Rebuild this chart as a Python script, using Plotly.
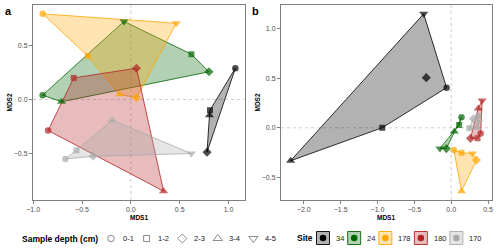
import plotly.graph_objects as go

# ---------------- data ----------------
depths = ["0-1", "1-2", "2-3", "3-4", "4-5"]
sites = ["34", "24", "178", "180", "170"]
site_colors = ["#000000", "#006400", "#FFA500", "#B22222", "#A9A9A9"]

# Panel a: MDS1 / MDS2 per site, values in depth order (0-1 ... 4-5); None = not shown
a34_x = [1.07, 0.81, 0.78, 0.805, None]
a34_y = [0.29, -0.10, -0.49, -0.146, None]
a24_x = [-0.903, 0.62, 0.80, -0.71, -0.07]
a24_y = [0.04, 0.42, 0.257, -0.022, 0.725]
a178_x = [-0.903, -0.44, 0.058, -0.116, 0.465]
a178_y = [0.795, 0.403, 0.015, 0.047, 0.708]
a180_x = [-0.847, -0.585, 0.058, 0.335, None]
a180_y = [-0.289, 0.20, 0.29, -0.852, None]
a170_x = [-0.67, -0.557, -0.386, -0.191, 0.619]
a170_y = [-0.553, -0.472, -0.528, -0.193, -0.503]

# Hull vertex order (depth indices) for panel a
a34_hull = [0, 1, 3, 2]
a24_hull = [0, 3, 2, 1, 4]
a178_hull = [0, 1, 3, 2, 4]
a180_hull = [1, 2, 3, 0]
a170_hull = [3, 4, 2, 0, 1]

# Panel b
b34_x = [-0.062, -0.936, -0.338, -2.18, -0.373]
b34_y = [0.404, 0.0, 0.505, -0.333, 1.148]
b24_x = [0.14, 0.108, -0.065, 0.043, -0.153]
b24_y = [0.105, 0.027, -0.21, -0.038, -0.208]
b178_x = [0.036, 0.14, 0.343, 0.14, 0.289]
b178_y = [-0.225, -0.252, -0.326, -0.639, -0.259]
b180_x = [0.40, 0.357, 0.262, 0.368, 0.42]
b180_y = [-0.057, -0.107, -0.107, 0.194, 0.275]
b170_x = [0.365, 0.246, 0.30, 0.35, 0.375]
b170_y = [0.115, -0.006, 0.09, 0.0, 0.06]

b34_hull = [4, 0, 1, 3]
b24_hull = [0, 2, 4, 3, 1]
b178_hull = [0, 1, 4, 2, 3]
b180_hull = [4, 0, 1, 2, 3]
b170_hull = [0, 4, 3, 1, 2]

# ---------------- style ----------------
W, H = 500, 249
FONT = "Liberation Sans, Arial, sans-serif"
depth_symbols = ["circle", "square", "diamond", "triangle-up", "triangle-down"]
depth_sizes = [6.5, 6, 7, 8, 8]
poly_order = [0, 1, 2, 3, 4]      # 34, 24, 178, 180, 170
point_order = [0, 1, 2, 4, 3]     # 34, 24, 178, 170, 180


def rgba(hexc, a):
    h = hexc.lstrip("#")
    return "rgba(%d,%d,%d,%.2f)" % (int(h[0:2], 16), int(h[2:4], 16), int(h[4:6], 16), a)


def padded(vals, f=0.05):
    v = [t for t in vals if t is not None]
    lo, hi = min(v), max(v)
    d = (hi - lo) * f
    return [lo - d, hi + d]


panels = [
    dict(xs=[a34_x, a24_x, a178_x, a180_x, a170_x],
         ys=[a34_y, a24_y, a178_y, a180_y, a170_y],
         hulls=[a34_hull, a24_hull, a178_hull, a180_hull, a170_hull],
         xa="x", ya="y"),
    dict(xs=[b34_x, b24_x, b178_x, b180_x, b170_x],
         ys=[b34_y, b24_y, b178_y, b180_y, b170_y],
         hulls=[b34_hull, b24_hull, b178_hull, b180_hull, b170_hull],
         xa="x2", ya="y2"),
]

fig = go.Figure()
for p in panels:
    for si in poly_order:
        col = site_colors[si]
        idx = p["hulls"][si] + [p["hulls"][si][0]]
        fig.add_trace(go.Scatter(
            x=[p["xs"][si][k] for k in idx], y=[p["ys"][si][k] for k in idx],
            mode="lines", fill="toself", fillcolor=rgba(col, 0.3),
            line=dict(color=col, width=0.8), xaxis=p["xa"], yaxis=p["ya"],
            showlegend=False, hoverinfo="skip"))
    for si in point_order:
        col = site_colors[si]
        ks = [k for k in range(len(depths)) if p["xs"][si][k] is not None]
        fig.add_trace(go.Scatter(
            x=[p["xs"][si][k] for k in ks], y=[p["ys"][si][k] for k in ks],
            mode="markers",
            marker=dict(symbol=[depth_symbols[k] for k in ks],
                        size=[depth_sizes[k] for k in ks], color=col,
                        line=dict(width=0)),
            text=[sites[si] + " " + depths[k] for k in ks],
            xaxis=p["xa"], yaxis=p["ya"], showlegend=False))

# ---------------- axes ----------------
ax_col = "#7f7f7f"
common = dict(showgrid=False, zeroline=False, showline=True, mirror=True,
              linecolor=ax_col, linewidth=1, ticks="outside", ticklen=3,
              tickcolor=ax_col, tickwidth=1, tickformat=".1f", dtick=0.5, tick0=0,
              tickfont=dict(family=FONT, size=7, color="#4d4d4d"),
              automargin=False, fixedrange=True)

yd = [1 - 200 / H, 1 - 5 / H]
a_dom = [33 / W, 245 / W]
b_dom = [281 / W, 491.7 / W]

ax_all = lambda lst: [v for s in lst for v in s]
fig.update_layout(
    xaxis=dict(domain=a_dom, range=padded(ax_all(panels[0]["xs"])), anchor="y", **common),
    yaxis=dict(domain=yd, range=padded(ax_all(panels[0]["ys"])), anchor="x", **common),
    xaxis2=dict(domain=b_dom, range=padded(ax_all(panels[1]["xs"])), anchor="y2", **common),
    yaxis2=dict(domain=yd, range=padded(ax_all(panels[1]["ys"])), anchor="x2", **common),
    xaxis3=dict(domain=[0, 1], range=[0, W], visible=False, fixedrange=True, anchor="y3"),
    yaxis3=dict(domain=[0, 1], range=[H, 0], visible=False, fixedrange=True, anchor="x3"),
)

shapes = []
for xa, ya in [("x", "y"), ("x2", "y2")]:
    shapes.append(dict(type="line", xref=xa, yref=ya + " domain", x0=0, x1=0, y0=0, y1=1,
                       line=dict(color="#c8c8c8", width=0.9, dash="3px,3px"), layer="below"))
    shapes.append(dict(type="line", xref=xa + " domain", yref=ya, x0=0, x1=1, y0=0, y1=0,
                       line=dict(color="#c8c8c8", width=0.9, dash="3px,3px"), layer="below"))

annotations = []


def ann(text, x, y, size, bold=False, angle=0, xanchor="center", color="black"):
    annotations.append(dict(
        text=("<b>%s</b>" % text) if bold else text, x=x / W, y=1 - y / H,
        xref="paper", yref="paper", showarrow=False, textangle=angle,
        xanchor=xanchor, yanchor="middle",
        font=dict(family=FONT, size=size, color=color)))


# panel labels & axis titles
ann("a", 8, 11, 11, bold=True)
ann("b", 255.5, 11, 11, bold=True)
for dom in (a_dom, b_dom):
    cx = (dom[0] + dom[1]) / 2 * W
    ann("MDS1", cx, 217.5, 6.5, bold=True)
    ann("MDS2", dom[0] * W - 24, 102.5, 6.5, bold=True, angle=-90)

# ---------------- legends (drawn on a pixel overlay axis) ----------------
LY = 238.5
ann("Sample depth (cm)", 20, LY, 8.5, bold=True, xanchor="left")
dep_cx = [111 + 35.6 * i for i in range(len(depths))]
fig.add_trace(go.Scatter(
    x=dep_cx, y=[LY] * len(depths), mode="markers",
    marker=dict(symbol=[s + "-open" for s in depth_symbols], size=depth_sizes,
                color="#333333", line=dict(width=0.8, color="#333333")),
    xaxis="x3", yaxis="y3", showlegend=False, hoverinfo="skip", cliponaxis=False))
for i, d in enumerate(depths):
    ann(d, dep_cx[i] + 9.5, LY, 7.5, xanchor="left", color="#222222")

ann("Site", 295, LY - 0.5, 8.5, bold=True, xanchor="left")


def tw(s, size):
    return sum(0.556 if c.isdigit() else 0.333 for c in s) * size


box = 13
cur = 316.5
key_cx = []
for si, s in enumerate(sites):
    x0 = cur
    key_cx.append(x0 + box / 2)
    shapes.append(dict(type="rect", xref="x3", yref="y3", x0=x0, x1=x0 + box,
                       y0=LY - 0.5 - box / 2, y1=LY - 0.5 + box / 2,
                       fillcolor=rgba(site_colors[si], 0.3),
                       line=dict(color=site_colors[si], width=0.9), layer="below"))
    lx = x0 + box + 4.3
    ann(s, lx, LY, 7.5, xanchor="left", color="#222222")
    cur = lx + tw(s, 7.8) + 5.2
fig.add_trace(go.Scatter(
    x=key_cx, y=[LY - 0.5] * len(sites), mode="markers",
    marker=dict(symbol="circle", size=6.5, color=site_colors, line=dict(width=0)),
    xaxis="x3", yaxis="y3", showlegend=False, hoverinfo="skip", cliponaxis=False))

fig.update_layout(
    width=W, height=H, margin=dict(l=0, r=0, t=0, b=0),
    paper_bgcolor="white", plot_bgcolor="rgba(0,0,0,0)",
    shapes=shapes, annotations=annotations, showlegend=False,
    font=dict(family=FONT),
)

fig.write_html("out.html", config=dict(displayModeBar=False),
               post_script="document.body.style.margin='0px';document.body.style.overflow='hidden';")
